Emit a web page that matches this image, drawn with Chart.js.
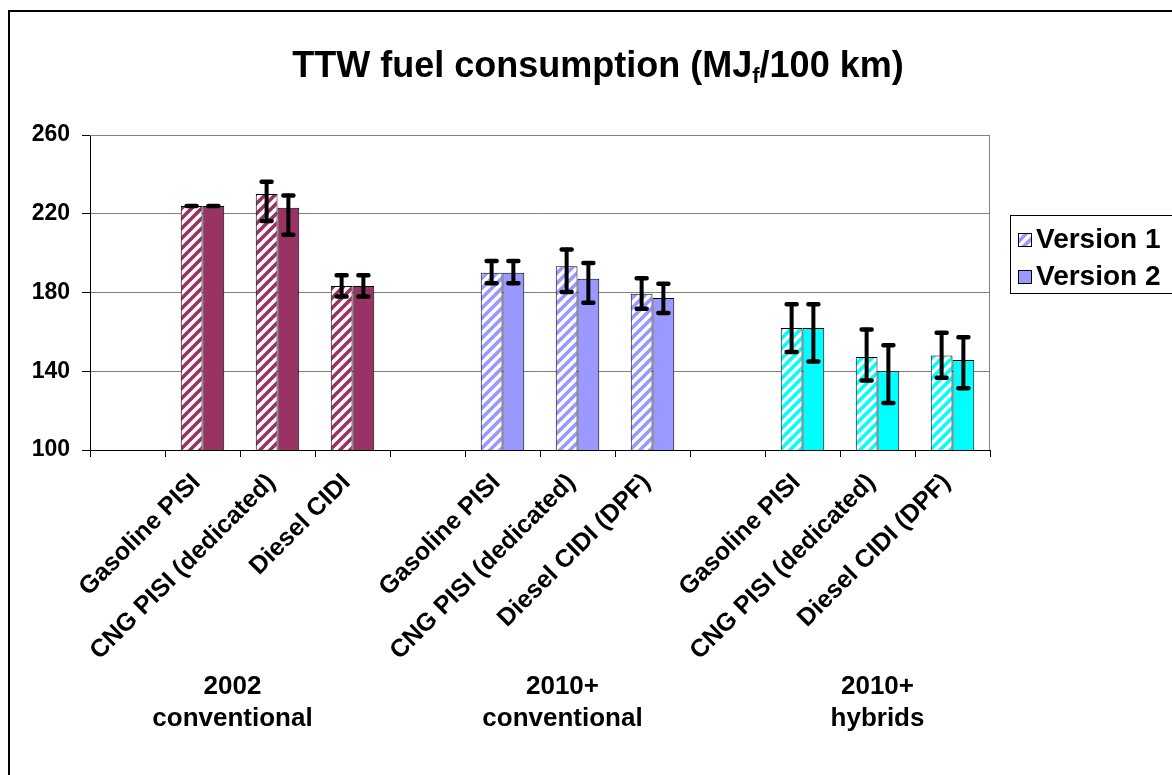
<!DOCTYPE html>
<html>
<head>
<meta charset="utf-8">
<script src="https://cdn.jsdelivr.net/npm/chart.js@4.4.0/dist/chart.umd.min.js"></script>
<style>
  html, body { margin: 0; padding: 0; background: #fff; }
  #wrap { width: 1172px; height: 775px; position: relative; }
</style>
</head>
<body>
<div id="wrap"><canvas id="c" width="1172" height="775"></canvas></div>
<script>
// categories (empty slots separate the three groups)
var categories = ['', 'Gasoline PISI', 'CNG PISI (dedicated)', 'Diesel CIDI',
                  '', 'Gasoline PISI', 'CNG PISI (dedicated)', 'Diesel CIDI (DPF)',
                  '', 'Gasoline PISI', 'CNG PISI (dedicated)', 'Diesel CIDI (DPF)'];
var groupNames = [['2002', 'conventional'], ['2010+', 'conventional'], ['2010+', 'hybrids']];
var groupLabelAt = [1.4, 5.8, 10.0];   // category index the group caption sits under

var version1 = [null, 224, 230, 183.3, null, 190, 193.3, 179.4, null, 162, 147.2, 148];
var version2 = [null, 224, 223, 183.3, null, 190, 187, 177.2, null, 162, 140, 145.7];
var v1Plus  = [0, 0, 6.3, 5.4, 0, 6, 8.5, 7.9, 0, 12, 14, 11.6];
var v1Minus = [0, 0, 13.7, 5.3, 0, 5.3, 13.1, 7.6, 0, 12.2, 11.9, 11.3];
var v2Plus  = [0, 0, 6.3, 5.4, 0, 6, 8, 7.3, 0, 12, 13.2, 11.6];
var v2Minus = [0, 0, 13.7, 5.3, 0, 5.3, 12.2, 7.6, 0, 17, 16.1, 14.3];

var yTicks = [100, 140, 180, 220, 260];
var groupColors = ['#993366', '#9999FF', '#00FFFF'];
var seriesNames = ['Version 1', 'Version 2'];

var FONT = '"Liberation Sans", Arial, sans-serif';

function hatch(color) {
  var t = document.createElement('canvas');
  t.width = 10; t.height = 10;
  var g = t.getContext('2d');
  g.fillStyle = '#fff';
  g.fillRect(0, 0, 10, 10);
  g.strokeStyle = color;
  g.lineWidth = 3.6;
  g.beginPath();
  g.moveTo(-2, 12); g.lineTo(12, -2);
  g.moveTo(-2, 2); g.lineTo(2, -2);
  g.moveTo(8, 12); g.lineTo(12, 8);
  g.stroke();
  return g.createPattern(t, 'repeat');
}

var ctx = document.getElementById('c').getContext('2d');
var patterns = groupColors.map(hatch);
function groupOf(i) { return Math.floor(i / 4); }

var errorBars = {
  id: 'errorBars',
  afterDatasetsDraw: function (chart) {
    var c = chart.ctx, y = chart.scales.y;
    var errs = [[v1Plus, v1Minus], [v2Plus, v2Minus]];
    c.save();
    c.strokeStyle = '#000';
    c.lineCap = 'round';
    chart.data.datasets.forEach(function (ds, d) {
      chart.getDatasetMeta(d).data.forEach(function (bar, i) {
        var v = ds.data[i];
        if (v == null) return;
        var top = y.getPixelForValue(v + errs[d][0][i]);
        var bot = y.getPixelForValue(v - errs[d][1][i]);
        c.lineWidth = 4;
        c.beginPath(); c.moveTo(bar.x, top); c.lineTo(bar.x, bot); c.stroke();
        c.lineWidth = 4.5;
        c.beginPath();
        c.moveTo(bar.x - 5, top); c.lineTo(bar.x + 5, top);
        c.moveTo(bar.x - 5, bot); c.lineTo(bar.x + 5, bot);
        c.stroke();
      });
    });
    c.restore();
  }
};

var decor = {
  id: 'decor',
  beforeDraw: function (chart) {
    var c = chart.ctx;
    c.save();
    c.fillStyle = '#fff';
    c.fillRect(0, 0, chart.width, chart.height);
    c.strokeStyle = '#000';
    c.lineWidth = 2;
    c.strokeRect(9, 11, 2000, 2000);
    c.restore();
  },
  afterDraw: function (chart) {
    var c = chart.ctx, a = chart.chartArea, x = chart.scales.x;
    c.save();
    // plot frame top/right
    c.strokeStyle = '#808080';
    c.lineWidth = 1;
    c.beginPath();
    c.moveTo(a.left, a.top + 0.5); c.lineTo(a.right - 0.5, a.top + 0.5); c.lineTo(a.right - 0.5, a.bottom);
    c.stroke();

    // title with subscript f
    c.fillStyle = '#000';
    c.textBaseline = 'alphabetic';
    var big = 'bold 36px ' + FONT, small = 'bold 22px ' + FONT;
    var p1 = 'TTW fuel consumption (MJ', p2 = 'f', p3 = '/100 km)';
    c.font = big; var w1 = c.measureText(p1).width, w3 = c.measureText(p3).width;
    c.font = small; var w2 = c.measureText(p2).width;
    var tx = 598 - (w1 + w2 + w3) / 2, ty = 77;
    c.font = big; c.fillText(p1, tx, ty);
    c.font = small; c.fillText(p2, tx + w1, ty + 6);
    c.font = big; c.fillText(p3, tx + w1 + w2, ty);

    // group captions
    c.font = 'bold 26px ' + FONT;
    c.textAlign = 'center';
    c.textBaseline = 'middle';
    groupNames.forEach(function (lines, g) {
      var gx = x.getPixelForValue(groupLabelAt[g]);
      c.fillText(lines[0], gx, 687);
      c.fillText(lines[1], gx, 719);
    });

    // legend
    c.textAlign = 'left';
    c.strokeStyle = '#000';
    c.lineWidth = 1;
    c.fillStyle = '#fff';
    c.fillRect(1010, 215, 300, 78);
    c.strokeRect(1010.5, 215.5, 300, 78);
    var fills = [hatch('#9999FF'), '#9999FF'];
    var rows = [239, 276];
    c.font = 'bold 28px ' + FONT;
    seriesNames.forEach(function (name, k) {
      c.fillStyle = fills[k];
      c.fillRect(1018, rows[k] - 6, 13, 13);
      c.strokeRect(1018.5, rows[k] - 5.5, 13, 13);
      c.fillStyle = '#000';
      c.fillText(name, 1036, rows[k] + 1);
    });
    c.restore();
  }
};

new Chart(ctx, {
  type: 'bar',
  data: {
    labels: categories,
    datasets: [
      {
        label: seriesNames[0],
        data: version1,
        backgroundColor: categories.map(function (_, i) { return patterns[groupOf(i)]; }),
        borderColor: '#000',
        borderWidth: 1
      },
      {
        label: seriesNames[1],
        data: version2,
        backgroundColor: categories.map(function (_, i) { return groupColors[groupOf(i)]; }),
        borderColor: '#000',
        borderWidth: 1
      }
    ]
  },
  options: {
    responsive: false,
    animation: false,
    layout: { padding: { left: 10, top: 135, right: 182, bottom: 0 } },
    datasets: { bar: { categoryPercentage: 0.58, barPercentage: 1.0 } },
    plugins: {
      legend: { display: false },
      title: { display: false },
      tooltip: { enabled: false }
    },
    scales: {
      x: {
        offset: true,
        afterFit: function (s) { s.height = 325; },
        grid: { offset: true, drawOnChartArea: false, drawTicks: true, tickLength: 7, color: '#000' },
        border: { color: '#000', width: 1 },
        ticks: {
          autoSkip: false,
          minRotation: 45,
          maxRotation: 45,
          padding: 11,
          labelOffset: -6,
          color: '#000',
          font: { family: FONT, size: 25, weight: 'bold' }
        }
      },
      y: {
        min: 100,
        max: 260,
        afterFit: function (s) { s.width = 80; },
        afterBuildTicks: function (s) { s.ticks = yTicks.map(function (v) { return { value: v }; }); },
        grid: { color: '#808080', lineWidth: 1, tickLength: 8, tickColor: '#000' },
        border: { color: '#000', width: 1 },
        ticks: {
          padding: 12,
          color: '#000',
          font: { family: FONT, size: 23, weight: 'bold' }
        }
      }
    }
  },
  plugins: [decor, errorBars]
});
</script>
</body>
</html>
